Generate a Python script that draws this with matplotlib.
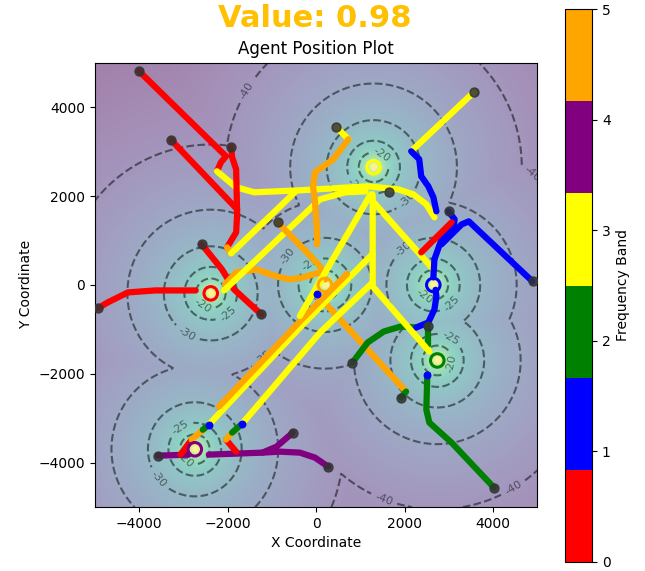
import numpy as np
import matplotlib.pyplot as plt
from matplotlib.colors import ListedColormap, Normalize
import matplotlib.cm as cm

# frequency bands 0..5
band_colors = ["red", "blue", "green", "yellow", "purple", "orange"]

# transmitter positions and their band
tx_x = [-2380, 200, 1300, 2650, 2740, -2740]
tx_y = [-190, 0, 2650, 0, -1700, -3700]
tx_band = [0, 5, 3, 1, 2, 4]
tx_power = 30.5  # dB at 1 unit

contour_levels = [-40, -35, -30, -25, -20]

# agent tracks: list of (band, [(x, y), ...])
tracks = [
    [(0, [(-4000, 4812), (-2035, 2896), (-2149, 2761), (-2240, 2558)]),
     (3, [(-2240, 2558), (-1806, 2198), (-1394, 2085), (-366, 2130), (1166, 2220),
          (1852, 2153), (2195, 2040), (2492, 1814), (2675, 1521)])],
    [(0, [(-3269, 3257), (-1783, 1702)])],
    [(0, [(-1920, 3099), (-1897, 2874), (-1806, 2603), (-1783, 1589), (-1806, 1183), (-2012, 845)]),
     (5, [(-2012, 845), (-1920, 710)]),
     (3, [(-1920, 710), (-480, 2085)])],
    [(0, [(-2583, 913), (-2126, 349), (-1852, -101), (-1234, -665)])],
    [(0, [(-4938, -530), (-4709, -394), (-4481, -282), (-4252, -169), (-3635, -124), (-2720, -124)])],
    [(5, [(-2057, 11), (-1806, 282), (-1349, 349), (-892, 192), (-594, 124), (-297, 169), (91, 282)])],
    [(3, [(-2080, -124), (91, 1927), (663, 2085), (1120, 2107)])],
    [(5, [(-869, 1409), (-206, 733), (91, 417), (206, 124)])],
    [(3, [(457, 3550), (732, 3280)]),
     (5, [(732, 3280), (389, 2829), (-23, 2536), (-69, 2220), (-23, 1860), (23, 1183), (23, 913)])],
    [(5, [(23, -214), (2035, -2401)]),
     (2, [(2035, -2401), (1920, -2536)])],
    [(2, [(823, -1747), (1166, -1296), (1532, -1048), (1920, -935), (2263, -958)]),
     (1, [(2263, -958), (2537, -845), (2675, -552), (2720, -259), (2700, -110)])],
    [(2, [(4023, -4564), (3063, -3550), (2560, -3099), (2492, -2806), (2515, -2017)])],
    [(2, [(2537, -935), (2537, -1341)])],
    [(4, [(-3566, -3843), (-2880, -3820)])],
    [(4, [(-2423, -3820), (-1212, -3775), (-823, -3753), (-366, -3775), (-23, -3888), (274, -4091)])],
    [(4, [(-1212, -3775), (-892, -3640), (-526, -3325)])],
    [(0, [(-3063, -3820), (-2812, -3482)]),
     (5, [(-2812, -3482), (-2469, -3189)]),
     (2, [(-2560, -3260), (-2423, -3144)]),
     (3, [(-2423, -3144), (-297, -890), (1280, 700)])],
    [(5, [(-2195, -2739), (-297, -750), (700, 250)])],
    [(0, [(-1806, -3753), (-2035, -3482)]),
     (5, [(-2035, -3482), (-1897, -3325)]),
     (2, [(-1897, -3325), (-1669, -3122)]),
     (3, [(-1669, -3122), (91, -1071), (1280, 56)])],
    [(3, [(1280, 2040), (1280, -34), (2560, -1499)])],
    [(3, [(1303, 1860), (2652, 349)])],
    [(3, [(-366, -700), (1234, 2040)])],
    [(3, [(3566, 4339), (2149, 3009)]),
     (1, [(2149, 3009), (2332, 2829), (2377, 2446), (2537, 2220), (2652, 1972), (2720, 1657)])],
    [(1, [(2995, 1657), (3132, 1476), (3109, 1296), (2835, 1026), (2675, 575), (2652, 169)])],
    [(1, [(4892, 79), (3452, 1431), (3292, 1364), (2835, 913)])],
    [(0, [(3063, 1409), (2377, 733)])],
]

# dark start / end markers
dot_x = [-4000, -3269, -1920, -2583, -1234, -4938, -869, 457, 1920, 823, 4023, 2537,
         -3566, 274, -526, 3566, 2995, 4892, 1646]
dot_y = [4812, 3257, 3099, 913, -665, -530, 1409, 3550, -2536, -1747, -4564, -935,
         -3843, -4091, -3325, 4339, 1657, 79, 2085]

# small blue points
blue_x = [23, 2515, -2423, -1669]
blue_y = [-214, -2017, -3144, -3122]

# background field: strongest received level over all transmitters
gx = np.linspace(-5000, 5000, 400)
gy = np.linspace(-5000, 5000, 400)
X, Y = np.meshgrid(gx, gy)
field = np.full(X.shape, -np.inf)
for sx, sy in zip(tx_x, tx_y):
    d = np.hypot(X - sx, Y - sy)
    field = np.maximum(field, tx_power - 20 * np.log10(np.maximum(d, 1)))

fig = plt.figure(figsize=(6.45, 5.71), dpi=100)
ax = fig.add_axes([0.147, 0.112, 0.686, 0.778])
cax = fig.add_axes([0.876, 0.016, 0.042, 0.968])

ax.imshow(field, extent=[-5000, 5000, -5000, 5000], origin="lower",
          cmap="viridis", alpha=0.5, vmin=-45, vmax=-5, aspect="auto", zorder=0)
cs = ax.contour(X, Y, field, levels=contour_levels, colors="k", alpha=0.5,
                linestyles="dashed", linewidths=1.5, zorder=1)
ax.clabel(cs, fmt="%d", fontsize=8)

for tr in tracks:
    for band, pts in tr:
        xs = [p[0] for p in pts]
        ys = [p[1] for p in pts]
        ax.plot(xs, ys, color=band_colors[band], lw=4.5, solid_capstyle="round", zorder=3)

ax.scatter(dot_x, dot_y, s=42, color="#333333", alpha=0.85, zorder=4)
ax.scatter(blue_x, blue_y, s=22, color="blue", zorder=4)

ax.scatter(tx_x, tx_y, s=95, facecolors="none",
           edgecolors=[band_colors[b] for b in tx_band], linewidths=2.2, zorder=5)

ax.set_xlim(-5000, 5000)
ax.set_ylim(-5000, 5000)
ax.set_xticks([-4000, -2000, 0, 2000, 4000])
ax.set_yticks([-4000, -2000, 0, 2000, 4000])
ax.set_xlabel("X Coordinate")
ax.set_ylabel("Y Coordinate")
ax.set_title("Agent Position Plot")

sm = cm.ScalarMappable(cmap=ListedColormap(band_colors), norm=Normalize(0, 5))
cb = fig.colorbar(sm, cax=cax)
cb.set_label("Frequency Band")

fig.text(0.488, 0.968, "Value: 0.98", ha="center", va="center",
         fontsize=22, fontweight="bold", color="#FFC000")

fig.savefig("out.png", dpi=100)
